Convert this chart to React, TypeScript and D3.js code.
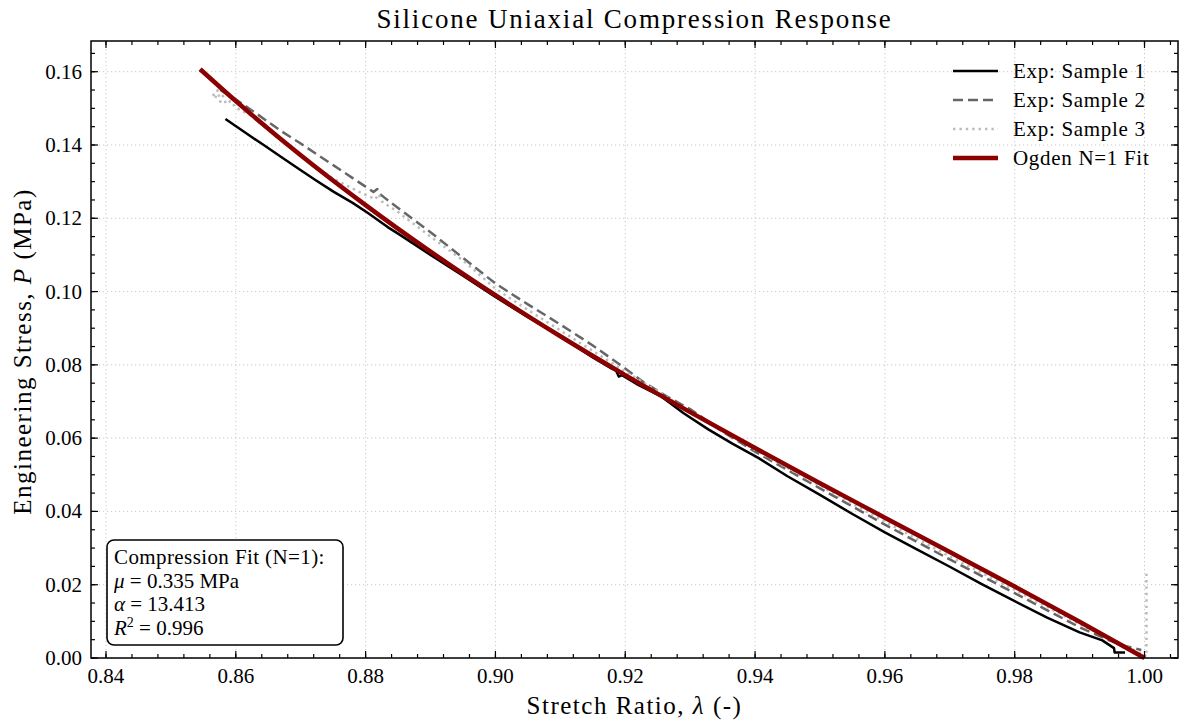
import React from "react";
import * as d3 from "d3";

// Experimental compression curves: stretch ratio λ and engineering stress P (MPa)
const sample1Lambda = [0.8584, 0.8602, 0.8625, 0.8643, 0.867, 0.8695, 0.8722, 0.8751, 0.878, 0.8803, 0.8834, 0.885, 0.887, 0.89, 0.895, 0.9, 0.905, 0.91, 0.915, 0.918, 0.9186, 0.919, 0.9195, 0.922, 0.9256, 0.929, 0.9328, 0.9365, 0.9405, 0.945, 0.95, 0.955, 0.96, 0.965, 0.97, 0.975, 0.98, 0.985, 0.99, 0.9935, 0.9953, 0.9954, 0.997];
const sample1Stress = [0.1471, 0.1449, 0.1421, 0.14, 0.1367, 0.1337, 0.1305, 0.1272, 0.1242, 0.1215, 0.1176, 0.1158, 0.1135, 0.11, 0.1043, 0.0985, 0.093, 0.0878, 0.082, 0.0789, 0.0784, 0.0768, 0.0772, 0.0745, 0.0713, 0.0668, 0.0624, 0.0585, 0.0546, 0.0496, 0.0445, 0.0393, 0.0343, 0.0296, 0.0249, 0.0201, 0.0155, 0.011, 0.007, 0.0048, 0.0027, 0.0015, 0.0015];

const sample2Lambda = [0.8576, 0.86, 0.863, 0.8669, 0.87, 0.875, 0.879, 0.8812, 0.8818, 0.8822, 0.883, 0.886, 0.89, 0.895, 0.9, 0.905, 0.9101, 0.915, 0.92, 0.9229, 0.926, 0.9302, 0.935, 0.94, 0.95, 0.96, 0.97, 0.98, 0.99, 0.9943, 0.997, 0.9995];
const sample2Stress = [0.155, 0.1524, 0.1488, 0.1439, 0.1404, 0.1345, 0.1298, 0.1272, 0.128, 0.1266, 0.1255, 0.1215, 0.1162, 0.1092, 0.1022, 0.0965, 0.0909, 0.0853, 0.079, 0.0752, 0.0718, 0.0677, 0.0618, 0.0563, 0.0463, 0.0364, 0.0269, 0.0177, 0.0084, 0.005, 0.0033, 0.0022];

const sample3Lambda = [0.8565, 0.8568, 0.8572, 0.8576, 0.858, 0.8585, 0.8592, 0.86, 0.862, 0.865, 0.87, 0.875, 0.879, 0.8815, 0.882, 0.8825, 0.885, 0.89, 0.895, 0.9, 0.905, 0.91, 0.915, 0.92, 0.925, 0.93, 0.94, 0.95, 0.96, 0.97, 0.98, 0.99, 0.995, 0.9995, 1.0003, 1.0003];
const sample3Stress = [0.154, 0.1526, 0.155, 0.1518, 0.1534, 0.1512, 0.152, 0.1502, 0.1484, 0.1442, 0.1371, 0.1308, 0.1272, 0.1252, 0.1266, 0.1246, 0.1217, 0.115, 0.1085, 0.1008, 0.095, 0.0894, 0.0838, 0.0782, 0.0728, 0.0672, 0.0568, 0.047, 0.0372, 0.0277, 0.0186, 0.0092, 0.005, 0.0012, 0.0004, 0.0232];

// Ogden N=1 fitted response
const fitLambda = [0.8545, 0.86, 0.87, 0.88, 0.89, 0.9, 0.91, 0.92, 0.93, 0.94, 0.95, 0.96, 0.97, 0.98, 0.99, 1.0];
const fitStress = [0.1607, 0.152, 0.1372, 0.1236, 0.1109, 0.099, 0.0878, 0.0772, 0.0671, 0.0573, 0.0477, 0.0383, 0.0289, 0.0195, 0.0099, 0.0];

const xTickValues = [0.84, 0.86, 0.88, 0.9, 0.92, 0.94, 0.96, 0.98, 1.0];
const yTickValues = [0.0, 0.02, 0.04, 0.06, 0.08, 0.1, 0.12, 0.14, 0.16];

const legendLabels = ["Exp: Sample 1", "Exp: Sample 2", "Exp: Sample 3", "Ogden N=1 Fit"];

const W = 1180;
const H = 724;
const L = 91;
const R = 1178;
const T = 41;
const B = 658;
const FONT = "'Liberation Serif', 'Times New Roman', serif";

const x = d3.scaleLinear().domain([0.83769, 1.00516]).range([L, R]);
const y = d3.scaleLinear().domain([0, 0.16838]).range([B, T]);

type Pt = [number, number];
const zip = (a: number[], b: number[]): Pt[] => a.map((v, i) => [v, b[i]]);

const line = d3
  .line<Pt>()
  .x((d) => x(d[0]))
  .y((d) => y(d[1]));

const smooth = d3
  .line<Pt>()
  .x((d) => x(d[0]))
  .y((d) => y(d[1]))
  .curve(d3.curveMonotoneX);

const series = [
  { pts: zip(sample1Lambda, sample1Stress), color: "#000000", width: 2.5, dash: undefined as string | undefined, gen: line },
  { pts: zip(sample2Lambda, sample2Stress), color: "#666666", width: 2.5, dash: "10,5", gen: line },
  { pts: zip(sample3Lambda, sample3Stress), color: "#bbbbbb", width: 2.5, dash: "2.4,4", gen: line },
  { pts: zip(fitLambda, fitStress), color: "#8b0000", width: 4.5, dash: undefined as string | undefined, gen: smooth },
];

export default function App() {
  const xMinor = d3.range(0, 43).map((i) => 0.836 + i * 0.004).filter((v) => v >= x.domain()[0] && v <= x.domain()[1]);
  const yMinor = d3.range(0, 34).map((i) => i * 0.005).filter((v) => v <= y.domain()[1]);
  const fmt = d3.format(".2f");

  return (
    <svg
      width={W}
      height={H}
      viewBox={`0 0 ${W} ${H}`}
      style={{ position: "absolute", left: 0, top: 0, background: "#ffffff" }}
      fontFamily={FONT}
    >
      <rect x={0} y={0} width={W} height={H} fill="#ffffff" />

      {/* grid */}
      <g stroke="#c8c8c8" strokeWidth={1} strokeDasharray="1.2,2.8">
        {xTickValues.map((v) => (
          <line key={"gx" + v} x1={x(v)} x2={x(v)} y1={T} y2={B} />
        ))}
        {yTickValues.map((v) => (
          <line key={"gy" + v} x1={L} x2={R} y1={y(v)} y2={y(v)} />
        ))}
      </g>

      {/* data */}
      <g fill="none" strokeLinejoin="round">
        {series.map((s, i) => (
          <path
            key={i}
            d={s.gen(s.pts) || ""}
            stroke={s.color}
            strokeWidth={s.width}
            strokeDasharray={s.dash}
          />
        ))}
      </g>

      {/* ticks, inward on all four sides */}
      <g stroke="#000" strokeWidth={1.2}>
        {xTickValues.map((v) => (
          <g key={"tx" + v}>
            <line x1={x(v)} x2={x(v)} y1={B} y2={B - 7} />
            <line x1={x(v)} x2={x(v)} y1={T} y2={T + 7} />
          </g>
        ))}
        {xMinor.map((v) => (
          <g key={"mx" + v}>
            <line x1={x(v)} x2={x(v)} y1={B} y2={B - 4} />
            <line x1={x(v)} x2={x(v)} y1={T} y2={T + 4} />
          </g>
        ))}
        {yTickValues.map((v) => (
          <g key={"ty" + v}>
            <line x1={L} x2={L + 7} y1={y(v)} y2={y(v)} />
            <line x1={R} x2={R - 7} y1={y(v)} y2={y(v)} />
          </g>
        ))}
        {yMinor.map((v) => (
          <g key={"my" + v}>
            <line x1={L} x2={L + 4} y1={y(v)} y2={y(v)} />
            <line x1={R} x2={R - 4} y1={y(v)} y2={y(v)} />
          </g>
        ))}
      </g>

      {/* frame */}
      <rect x={L} y={T} width={R - L} height={B - T} fill="none" stroke="#000" strokeWidth={1.5} />

      {/* tick labels */}
      <g fontSize={21} fill="#000">
        {xTickValues.map((v) => (
          <text key={"lx" + v} x={x(v)} y={B + 25} textAnchor="middle">
            {fmt(v)}
          </text>
        ))}
        {yTickValues.map((v) => (
          <text key={"ly" + v} x={L - 9} y={y(v) + 7} textAnchor="end">
            {fmt(v)}
          </text>
        ))}
      </g>

      {/* title and axis labels */}
      <text x={(L + R) / 2} y={28} textAnchor="middle" fontSize={27} letterSpacing={1.8} fill="#000">
        Silicone Uniaxial Compression Response
      </text>
      <text x={(L + R) / 2} y={714} textAnchor="middle" fontSize={25} letterSpacing={1.5} fill="#000">
        Stretch Ratio, <tspan fontStyle="italic">λ</tspan> (-)
      </text>
      <text
        transform={`translate(31, ${(T + B) / 2 + 2}) rotate(-90)`}
        textAnchor="middle"
        fontSize={25}
        letterSpacing={1.5}
        fill="#000"
      >
        Engineering Stress, <tspan fontStyle="italic">P</tspan> (MPa)
      </text>

      {/* legend */}
      <g>
        {series.map((s, i) => {
          const ly = 71 + i * 29;
          return (
            <g key={"lg" + i}>
              <line x1={953} x2={998} y1={ly} y2={ly} stroke={s.color} strokeWidth={s.width} strokeDasharray={s.dash} />
              <text x={1013} y={ly + 7} fontSize={21} letterSpacing={0.7} fill="#000">
                {legendLabels[i]}
              </text>
            </g>
          );
        })}
      </g>

      {/* fit parameters */}
      <g>
        <rect x={107} y={540} width={236} height={105} rx={7} ry={7} fill="#ffffff" stroke="#000" strokeWidth={1.6} />
        <g fontSize={21} fill="#000">
          <text x={114} y={564} letterSpacing={0.4}>Compression Fit (N=1):</text>
          <text x={114} y={588}>
            <tspan fontStyle="italic">μ</tspan> = 0.335 MPa
          </text>
          <text x={114} y={611}>
            <tspan fontStyle="italic">α</tspan> = 13.413
          </text>
          <text x={114} y={635}>
            <tspan fontStyle="italic">R</tspan>
            <tspan fontSize={14} dy={-8}>2</tspan>
            <tspan dy={8}> = 0.996</tspan>
          </text>
        </g>
      </g>
    </svg>
  );
}
